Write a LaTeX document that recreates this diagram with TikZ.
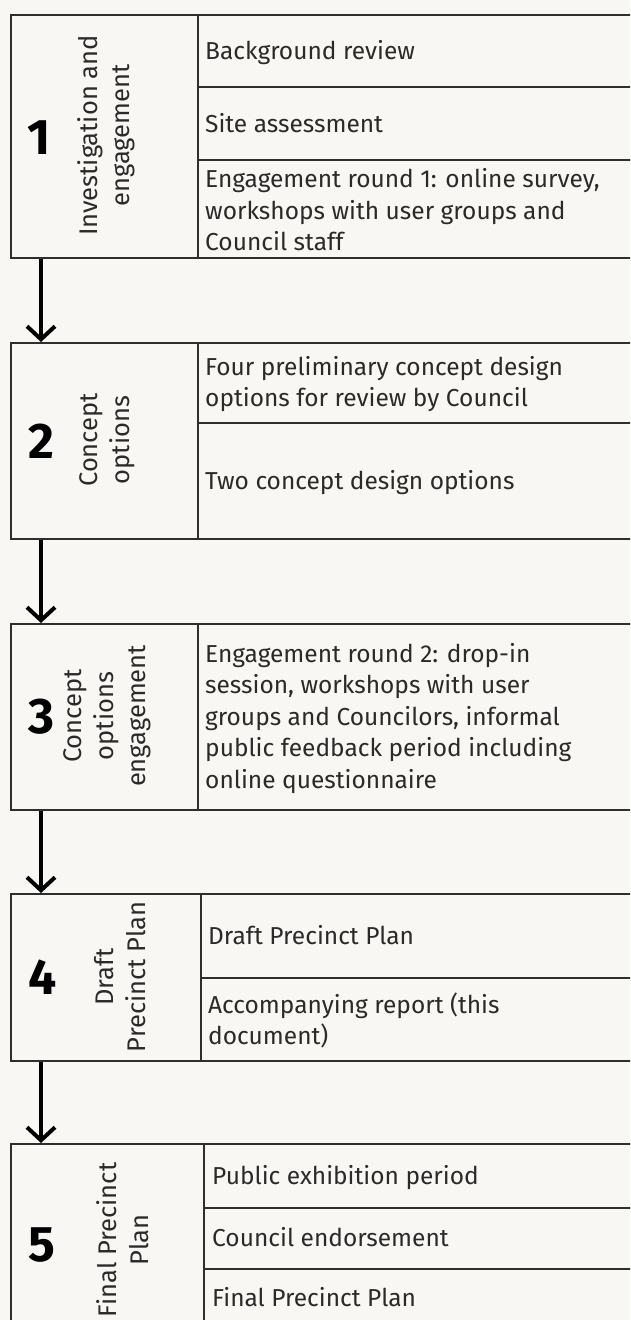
\documentclass[tikz,border=0pt]{standalone}
\usepackage{fontspec}
\setmainfont{Fira Sans}[BoldFont={Fira Sans Bold}]
\usetikzlibrary{arrows.meta}
\definecolor{bg}{HTML}{F8F7F3}
\definecolor{ln}{HTML}{2E2E2E}
\definecolor{tx}{HTML}{2A2A2A}
\newcommand\cs{\rule[-6pt]{0pt}{28.8pt}}
\tikzset{
  stage/.style={draw=ln, line width=2pt, rectangle, inner sep=0pt, anchor=north west, minimum width=630pt},
  cell/.style={anchor=west, inner sep=0pt, align=left, font=\fontsize{24.5}{31.5}\selectfont, text=tx},
  lab/.style={rotate=90, inner sep=0pt, align=center, font=\fontsize{25.5}{32}\selectfont, text=tx},
  num/.style={anchor=west, inner sep=0pt, font=\fontsize{50}{50}\selectfont\bfseries, text=black, text height=34.5pt, text depth=0pt},
  arr/.style={line width=4pt, black, -{Straight Barb[length=13pt, width=28pt]}},
  sep/.style={draw=ln, line width=1.6pt}
}
\begin{document}
\begin{tikzpicture}[x=1pt, y=-1pt]
\useasboundingbox (0,0) rectangle (630,1320);
\fill[bg] (0,0) rectangle (630,1320);
\clip (0,0) rectangle (630,1320);

% stage boxes
\node[stage, minimum height=243pt] (s1) at (10,14) {};
\node[stage, minimum height=196pt] (s2) at (10,342) {};
\node[stage, minimum height=186pt] (s3) at (10,623) {};
\node[stage, minimum height=167pt] (s4) at (10,893) {};
\node[stage, minimum height=184pt] (s5) at (10,1143) {};

% column dividers
\draw[sep] (198,14) -- (198,257);
\draw[sep] (198,342) -- (198,538);
\draw[sep] (198,623) -- (198,809);
\draw[sep] (201,893) -- (201,1060);
\draw[sep] (204,1143) -- (204,1327);

% row separators
\draw[sep] (198,87) -- (640,87);
\draw[sep] (198,160) -- (640,160);
\draw[sep] (198,423) -- (640,423);
\draw[sep] (201,978) -- (640,978);
\draw[sep] (204,1208) -- (640,1208);
\draw[sep] (204,1269) -- (640,1269);

% numbers
\node[num] (n1) at (27,137.5) {1};
\node[num] (n2) at (28,441) {2};
\node[num] (n3) at (28,716) {3};
\node[num] (n4) at (28,977) {4};
\node[num] (n5) at (28,1244) {5};

% stage labels
\node[lab] (l1) at (105.5,135.5) {\cs Investigation and\\\cs engagement};
\node[lab] (l2) at (105,440) {\cs Concept\\\cs options};
\node[lab] (l3) at (105,716) {\cs Concept\\\cs options\\\cs engagement};
\node[lab] (l4) at (121.5,977) {\cs Draft\\\cs Precinct Plan};
\node[lab] (l5) at (124.5,1240) {\cs Final Precinct\\\cs Plan};

% cell texts
\node[cell] (c11) at (205,51.5) {\cs Background review};
\node[cell] (c12) at (205,124.5) {\cs Site assessment};
\node[cell] (c13) at (205,211) {\cs Engagement round 1: online survey,\\\cs workshops with user groups and\\\cs Council staff};
\node[cell] (c21) at (205,382.5) {\cs Four preliminary concept design\\\cs options for review by Council};
\node[cell] (c22) at (205,481.5) {\cs Two concept design options};
\node[cell] (c31) at (205,717) {\cs Engagement round 2: drop-in\\\cs session, workshops with user\\\cs groups and Councilors, informal\\\cs public feedback period including\\\cs online questionnaire};
\node[cell] (c41) at (208,936.5) {\cs Draft Precinct Plan};
\node[cell] (c42) at (208,1020.5) {\cs Accompanying report (this\\\cs document)};
\node[cell] (c51) at (212,1176.5) {\cs Public exhibition period};
\node[cell] (c52) at (212,1238.5) {\cs Council endorsement};
\node[cell] (c53) at (212,1298) {\cs Final Precinct Plan};

% arrows
\draw[arr] ([xshift=31pt]s1.south west) -- ([xshift=31pt]s2.north west);
\draw[arr] ([xshift=31pt]s2.south west) -- ([xshift=31pt]s3.north west);
\draw[arr] ([xshift=31pt]s3.south west) -- ([xshift=31pt]s4.north west);
\draw[arr] ([xshift=31pt]s4.south west) -- ([xshift=31pt]s5.north west);
\end{tikzpicture}
\end{document}
